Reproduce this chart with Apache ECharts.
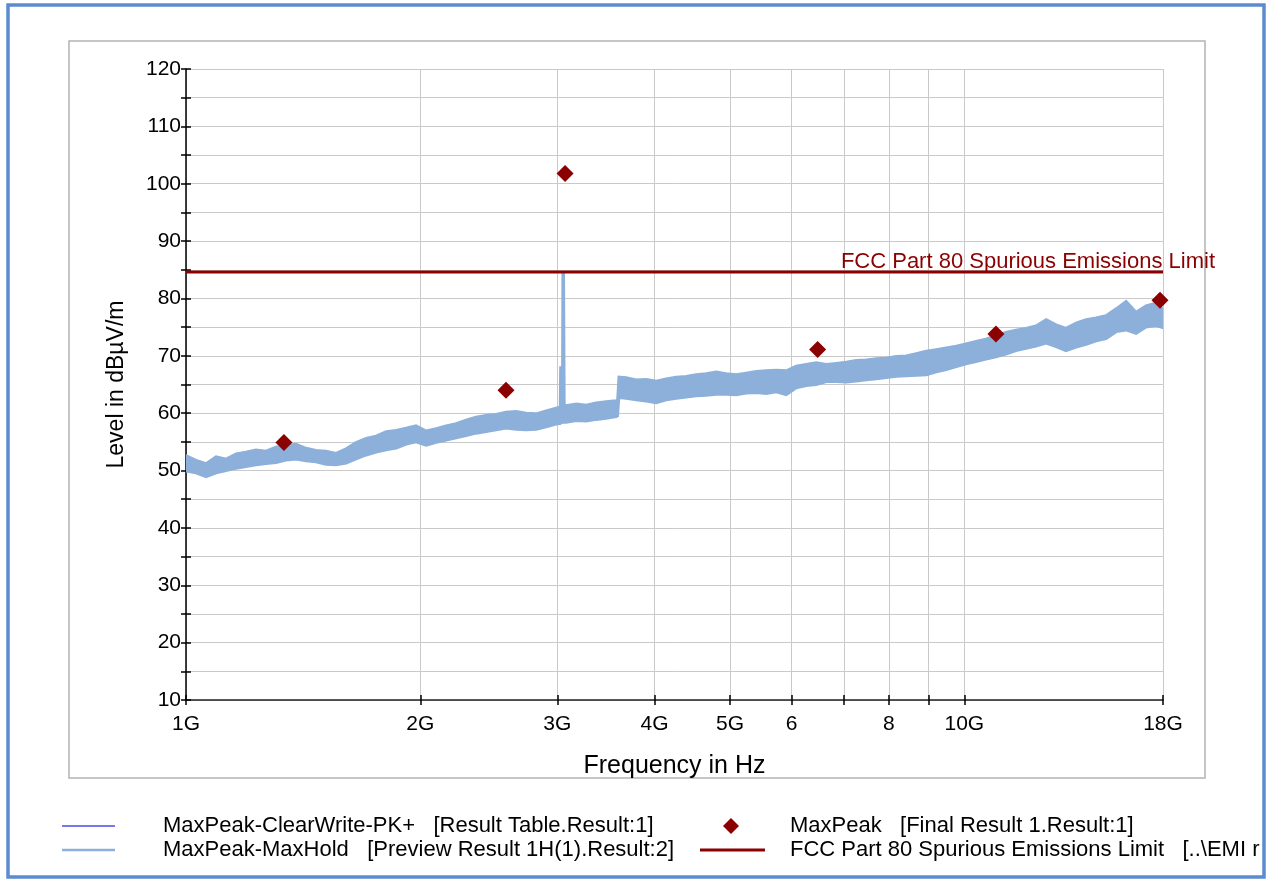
<!DOCTYPE html>
<html><head><meta charset="utf-8">
<script src="https://cdn.jsdelivr.net/npm/echarts@6/dist/echarts.min.js"></script>
<style>html,body{margin:0;padding:0;background:#fff}#c{width:1270px;height:879px}</style>
</head><body><div id="c"></div>
<script>
const FONT = 'Liberation Sans';

// axis ticks / labels
const xTickValues = [1, 2, 3, 4, 5, 6, 7, 8, 9, 10, 18];
const xLabelValues = [1, 2, 3, 4, 5, 6, 8, 10, 18];
const xLabelTexts = ['1G', '2G', '3G', '4G', '5G', '6', '8', '10G', '18G'];
const yLabelValues = [10, 20, 30, 40, 50, 60, 70, 80, 90, 100, 110, 120];

// series names
const nameClearWrite = 'MaxPeak-ClearWrite-PK+   [Result Table.Result:1]';
const nameMaxHold = 'MaxPeak-MaxHold   [Preview Result 1H(1).Result:2]';
const nameMaxPeak = 'MaxPeak   [Final Result 1.Result:1]';
const nameLimit = 'FCC Part 80 Spurious Emissions Limit   [..\\EMI r';
const limitLabel = 'FCC Part 80 Spurious Emissions Limit';

// MaxHold trace: frequency (GHz), upper and lower edge of the noise band (dBµV/m)
const holdFreq = [1.000,1.030,1.061,1.093,1.126,1.160,1.194,1.230,1.267,1.305,
1.344,1.385,1.426,1.469,1.513,1.559,1.606,1.654,1.704,1.755,
1.808,1.862,1.918,1.975,2.035,2.096,2.159,2.224,2.290,2.359,
2.430,2.503,2.578,2.656,2.735,2.818,2.902,2.989,
3.015,3.025,3.029,3.034,3.045,3.049,3.056,3.062,
3.079,3.172,3.267,3.365,3.466,3.570,3.585,3.599,
3.677,3.788,3.902,4.019,4.140,4.264,4.392,4.524,4.660,4.800,
4.944,5.093,5.245,5.403,5.565,5.733,5.905,6.082,6.265,6.453,
6.647,6.846,7.052,7.264,7.482,7.707,7.938,8.177,8.422,8.675,
8.936,9.204,9.481,9.765,10.05,10.35,10.66,10.98,11.31,11.65,
12.00,12.36,12.74,13.12,13.51,13.92,14.34,14.77,15.21,15.67,
16.14,16.62,17.12,17.63,18.00];
const holdTop = [52.6,51.8,51.2,52.4,52.0,52.9,53.2,53.6,53.4,54.1,
54.4,54.6,53.9,53.5,53.4,53.0,53.8,54.9,55.6,56.0,
56.8,57.0,57.4,57.8,56.9,57.3,57.8,58.2,58.8,59.3,
59.6,59.8,60.2,60.3,60.0,59.9,60.4,60.9,
61.0,61.2,68.2,61.4,61.5,84.4,84.6,61.6,
61.3,61.6,61.4,61.8,62.0,62.2,62.3,66.3,
66.2,65.8,65.9,65.6,66.0,66.3,66.4,66.7,66.9,67.2,
66.9,66.7,67.0,67.3,67.4,67.5,67.4,68.2,68.5,68.8,
68.5,68.7,68.9,69.2,69.3,69.5,69.6,69.9,70.0,70.4,
70.8,71.1,71.4,71.7,72.1,72.5,72.9,73.5,74.1,74.5,
74.8,75.2,76.3,75.4,74.8,75.7,76.3,76.6,77.0,78.2,
79.5,77.6,78.7,79.2,78.1];
const holdBottom = [49.9,49.6,48.9,49.6,50.0,50.4,50.7,51.0,51.2,51.4,
51.8,52.0,51.7,51.5,51.1,51.0,51.3,52.0,52.7,53.2,
53.6,53.9,54.6,55.0,54.4,54.9,55.3,55.7,56.1,56.5,
56.8,57.1,57.4,57.2,57.1,57.2,57.6,58.1,
58.2,58.2,58.3,58.3,58.4,58.4,58.4,58.4,
58.4,58.7,58.6,58.9,59.1,59.4,59.5,62.7,
62.6,62.3,62.1,61.8,62.3,62.6,62.8,63.0,63.1,63.3,
63.3,63.2,63.5,63.6,63.4,63.7,63.2,64.4,64.8,65.0,
65.5,65.5,65.4,65.6,65.8,66.0,66.2,66.4,66.5,66.6,
66.7,67.2,67.6,68.1,68.6,69.0,69.4,69.8,70.3,70.9,
71.3,71.7,72.2,71.6,70.9,71.5,72.0,72.6,73.0,74.2,
74.5,73.9,75.0,75.3,74.9];

// MaxPeak final results
const peakFreq = [1.336, 2.577, 3.069, 6.479, 10.98, 17.84];
const peakLevel = [54.9, 64.0, 101.8, 71.1, 73.8, 79.7];

// limit line
const limitFreq = [1, 18];
const limitLevel = [84.6, 84.6];

const chart = echarts.init(document.getElementById('c'), null, {renderer: 'canvas'});

function xLabel(v) {
  let best = 0, bd = Infinity;
  xLabelValues.forEach((t, i) => { const d = Math.abs(Math.log(t) - Math.log(v)); if (d < bd) { bd = d; best = i; } });
  return xLabelTexts[best];
}

const tickStyle = {color: '#000', width: 1.5};
const gridLine = {color: '#c9c9c9', width: 1};

const holdData = holdFreq.map((f, i) => [f, holdTop[i], holdBottom[i]]);

chart.setOption({
  animation: false,
  backgroundColor: '#ffffff',
  grid: {left: 186, right: 107, top: 69, bottom: 179, outerBoundsMode: 'none', containLabel: false},
  xAxis: [{
    type: 'log', logBase: 10, min: 1, max: 18,
    axisLine: {show: true, lineStyle: {color: '#222', width: 1.5}},
    axisTick: {show: true, length: 5, customValues: xTickValues, lineStyle: tickStyle},
    axisLabel: {show: true, customValues: xLabelValues, formatter: xLabel, margin: 14,
      fontFamily: FONT, fontSize: 21, color: '#000'},
    splitLine: {show: true, lineStyle: gridLine},
    minorTick: {show: false}, minorSplitLine: {show: false},
    name: 'Frequency in Hz', nameLocation: 'middle', nameGap: 54,
    nameTextStyle: {fontFamily: FONT, fontSize: 25, color: '#000'}
  }, {
    type: 'log', logBase: 10, min: 1, max: 18, position: 'bottom',
    axisLine: {show: false},
    axisTick: {show: true, inside: true, length: 5, customValues: xTickValues, lineStyle: tickStyle},
    axisLabel: {show: false}, splitLine: {show: false}
  }],
  yAxis: [{
    type: 'value', min: 10, max: 120, interval: 5,
    axisLine: {show: true, lineStyle: {color: '#000', width: 1.5}},
    axisTick: {show: true, length: 5, lineStyle: tickStyle},
    axisLabel: {show: true, customValues: yLabelValues, margin: 5,
      fontFamily: FONT, fontSize: 21, color: '#000'},
    splitLine: {show: true, lineStyle: gridLine},
    name: 'Level in dBµV/m', nameLocation: 'middle', nameGap: 58,
    nameTextStyle: {fontFamily: FONT, fontSize: 23, color: '#000'}
  }, {
    type: 'value', min: 10, max: 120, interval: 5, position: 'left',
    axisLine: {show: false},
    axisTick: {show: true, inside: true, length: 5, lineStyle: tickStyle},
    axisLabel: {show: false}, splitLine: {show: false}
  }],
  legend: [
    {left: 62, top: 815, padding: 0, orient: 'horizontal', selectedMode: false,
     itemWidth: 53, itemHeight: 1.5,
     data: [{name: nameClearWrite, icon: 'rect', itemStyle: {color: '#4b4be6'}}],
     textStyle: {fontFamily: FONT, fontSize: 22, color: '#000', padding: [0, 0, 0, 43]}},
    {left: 62, top: 839, padding: 0, orient: 'horizontal', selectedMode: false,
     itemWidth: 53, itemHeight: 2.5,
     data: [{name: nameMaxHold, icon: 'rect', itemStyle: {color: '#8cb0da'}}],
     textStyle: {fontFamily: FONT, fontSize: 22, color: '#000', padding: [0, 0, 0, 43]}},
    {left: 723, top: 815, padding: 0, orient: 'horizontal', selectedMode: false,
     itemWidth: 16, itemHeight: 16,
     data: [{name: nameMaxPeak, icon: 'diamond', itemStyle: {color: '#8b0000', opacity: 1}}],
     textStyle: {fontFamily: FONT, fontSize: 22, color: '#000', padding: [0, 0, 0, 46]}},
    {left: 700, top: 839, padding: 0, orient: 'horizontal', selectedMode: false,
     itemWidth: 65, itemHeight: 3,
     data: [{name: nameLimit, icon: 'rect', itemStyle: {color: '#8b0000'}}],
     textStyle: {fontFamily: FONT, fontSize: 22, color: '#000', padding: [0, 0, 0, 20]}}
  ],
  graphic: [
    {type: 'rect', silent: true, z: -10, shape: {x: 69, y: 41, width: 1136, height: 737},
     style: {fill: 'none', stroke: '#b3b3b3', lineWidth: 1.5}},
    {type: 'rect', silent: true, shape: {x: 8, y: 5, width: 1256, height: 872},
     style: {fill: 'none', stroke: '#5b8bd0', lineWidth: 3.5}}
  ],
  series: [
    {name: nameClearWrite, type: 'line', data: [], showSymbol: false,
     itemStyle: {color: '#4b4be6'}, lineStyle: {color: '#4b4be6', width: 1}},
    {name: nameMaxHold, type: 'custom', clip: true, xAxisIndex: 0, yAxisIndex: 0,
     itemStyle: {color: '#8cb0da'},
     encode: {x: 0, y: [1, 2]},
     data: holdData,
     renderItem: function (params, api) {
       if (params.dataIndex !== 0) return null;
       const pts = [];
       for (let i = 0; i < holdFreq.length; i++) pts.push(api.coord([holdFreq[i], holdTop[i]]));
       for (let i = holdFreq.length - 1; i >= 0; i--) pts.push(api.coord([holdFreq[i], holdBottom[i]]));
       return {type: 'polygon', shape: {points: pts},
         style: {fill: '#8cb0da', stroke: '#8cb0da', lineWidth: 2.8, lineJoin: 'miter', miterLimit: 3}};
     }, z: 2},
    {name: nameLimit, type: 'line', data: limitFreq.map((f, i) => [f, limitLevel[i]]),
     showSymbol: false, symbol: 'none', z: 3,
     itemStyle: {color: '#8b0000'}, lineStyle: {color: '#8b0000', width: 3},
     endLabel: {show: true, formatter: limitLabel, align: 'right', verticalAlign: 'middle',
       distance: 0, offset: [52, -10], color: '#8b0000', fontFamily: FONT, fontSize: 22}},
    {name: nameMaxPeak, type: 'scatter', symbol: 'diamond', symbolSize: 17, z: 4,
     itemStyle: {color: '#8b0000', opacity: 1},
     emphasis: {disabled: true},
     data: peakFreq.map((f, i) => [f, peakLevel[i]])}
  ]
});
</script>
</body></html>
